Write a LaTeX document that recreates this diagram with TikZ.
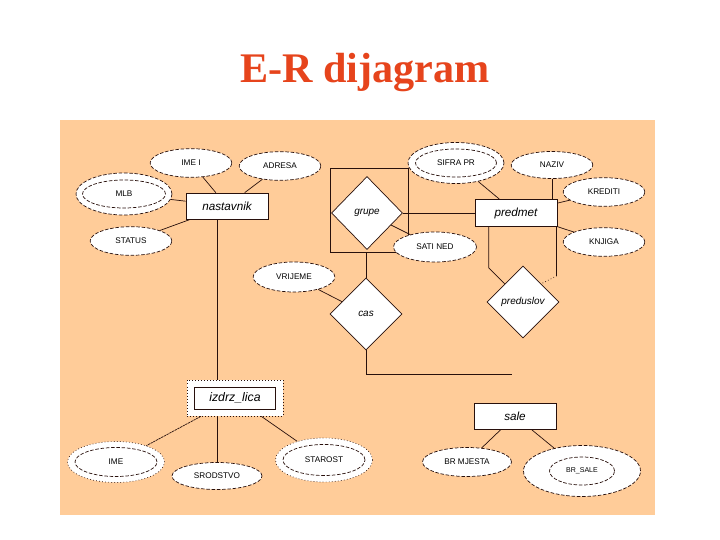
\documentclass[tikz,border=0pt]{standalone}
\usepackage{fontspec}
\setmainfont{Liberation Serif}
\setsansfont{Liberation Sans}
\usetikzlibrary{shapes.geometric,positioning,calc}
\definecolor{peach}{RGB}{255,204,153}
\definecolor{titlered}{RGB}{230,68,28}
\definecolor{linec}{RGB}{40,16,12}

\tikzset{
  entity/.style={draw=linec, fill=white, line width=0.6pt, minimum width=2.46cm, minimum height=0.78cm, inner sep=0, font=\sffamily\itshape\fontsize{10}{12}\selectfont},
  attr/.style={ellipse, draw=linec, fill=white, line width=0.6pt, dash pattern=on 3pt off 1.5pt, minimum width=2.45cm, minimum height=0.86cm, inner sep=0, font=\sffamily\fontsize{7}{8}\selectfont},
  outerattr/.style={attr, minimum width=2.88cm, minimum height=1.26cm},
  weakattr/.style={attr, dotted, minimum width=2.91cm, minimum height=1.26cm},
  relship/.style={diamond, draw=linec, fill=white, line width=0.6pt, minimum width=2.16cm, minimum height=2.16cm, inner sep=0, font=\sffamily\itshape\fontsize{8.5}{10}\selectfont},
  link/.style={draw=linec, line width=0.6pt},
}

\begin{document}
\begin{tikzpicture}[x=0.03cm, y=-0.03cm]
    \useasboundingbox (0,0) rectangle (720,540);
    \fill[peach] (60,120) rectangle (655,515);
    \node[font=\bfseries\fontsize{36}{40}\selectfont, text=titlered] (title) at (365,73) {E-R dijagram};

    % nastavnik
    \node[entity] (nastavnik) at (227,206) {nastavnik};
    \node[attr] (imei) at (191,163) {IME I};
    \node[attr] (adresa) at (280,166) {ADRESA};
    \node[outerattr] (mlb) at (124,194) {};
    \node[attr, minimum width=2.49cm, minimum height=0.84cm] (mlbin) at (mlb) {MLB};
    \node[attr] (status) at (131,241) {STATUS};
    \draw[link] (imei) -- (nastavnik);
    \draw[link] (adresa) -- (nastavnik);
    \draw[link] (mlb) -- (nastavnik);
    \draw[link] (status) -- (nastavnik);

    % predmet
    \node[entity, minimum height=0.81cm] (predmet) at (516,213) {predmet};
    \node[outerattr, minimum height=1.23cm] (sifra) at (456,163) {};
    \node[attr, minimum width=2.43cm, minimum height=0.84cm] (sifrain) at (sifra) {SIFRA PR};
    \node[attr, minimum height=0.81cm] (naziv) at (552,165) {NAZIV};
    \node[attr] (krediti) at (604,192) {KREDITI};
    \node[attr] (knjiga) at (604,242) {KNJIGA};
    \draw[link] (sifra) -- (predmet);
    \draw[link] (naziv) -- (naziv |- predmet.north);
    \draw[link] (krediti) -- (predmet);
    \draw[link] (knjiga) -- (predmet);

    % grupe (agregacija)
    \node[draw=linec, line width=0.6pt, minimum width=2.34cm, minimum height=2.52cm, inner sep=0] (agg) at (369,210) {};
    \node[relship, minimum width=2.13cm, minimum height=2.19cm] (grupe) at (367,213) {grupe};
    \node[attr, minimum width=2.49cm, minimum height=0.9cm] (sati) at (435,247) {SATI NED};
    \draw[link] (grupe) -- (predmet);
    \draw[link] (grupe) -- (sati);

    % cas
    \node[relship] (cas) at (366,314) {cas};
    \node[attr, minimum height=0.9cm] (vrijeme) at (294,277) {VRIJEME};
    \coordinate (casend) at (512,374);
    \draw[link] (agg.south -| cas.north) -- (cas.north);
    \draw[link] (vrijeme) -- (cas);
    \draw[link] (cas.south) |- (casend);

    % preduslov
    \node[relship] (preduslov) at (523,302) {preduslov};
    \draw[link] ($(predmet.south west)+(14,0)$) -- ++(0,41) -- (preduslov.north west);
    \draw[link] ($(predmet.south east)+(-0.6,0)$) -- ++(0,49) coordinate (predr);
    \draw[link, dotted] (predr) -- (preduslov.north east);

    % izdrz_lica
    \node[draw=linec, fill=white, line width=0.6pt, dotted, minimum width=2.88cm, minimum height=1.08cm] (izdrzout) at (235,398) {};
    \node[entity, minimum width=2.43cm, minimum height=0.66cm, font=\sffamily\itshape\fontsize{10.5}{12}\selectfont] (izdrz) at (izdrzout) {izdrz\_lica};
    \node[weakattr, minimum height=1.23cm] (ime) at (116,462) {};
    \node[attr, minimum width=2.46cm, minimum height=0.87cm] (imein) at (ime) {IME};
    \node[attr, minimum width=2.7cm, minimum height=0.81cm] (srodstvo) at (217,476) {SRODSTVO};
    \node[weakattr, minimum height=1.32cm] (starost) at (324,460) {};
    \node[attr, minimum width=2.46cm, minimum height=0.93cm] (starostin) at (starost) {STAROST};
    \draw[link] (nastavnik.south -| srodstvo) -- (izdrzout.north -| srodstvo);
    \draw[link, dash pattern=on 2pt off 0.6pt] (izdrzout) -- (ime);
    \draw[link] (izdrzout.south -| srodstvo) -- (srodstvo);
    \draw[link] (izdrzout) -- (starost);

    % sale
    \node[entity] (sale) at (515,416) {sale};
    \node[attr, minimum width=2.67cm, minimum height=0.87cm] (brmj) at (467,462) {BR MJESTA};
    \node[attr, minimum width=3.51cm, minimum height=1.53cm] (brsale) at (582,471) {};
    \node[attr, minimum width=1.95cm, minimum height=0.84cm, font=\sffamily\fontsize{6}{7}\selectfont] (brsalein) at (brsale) {BR\_SALE};
    \draw[link] (sale) -- (brmj);
    \draw[link] (sale) -- (brsale);
\end{tikzpicture}
\end{document}
